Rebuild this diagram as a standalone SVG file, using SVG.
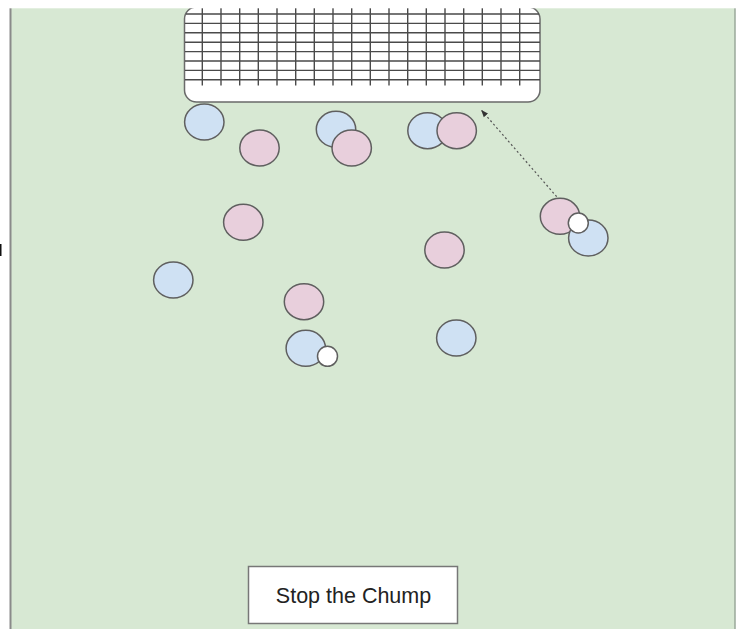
<svg xmlns="http://www.w3.org/2000/svg" width="736" height="629" viewBox="0 0 736 629">
<defs>
<style>
.blue{fill:#cfe1f3;stroke:#5f5f5f;stroke-width:1.5}
.pink{fill:#e8cfdc;stroke:#5f5f5f;stroke-width:1.5}
.ball{fill:#ffffff;stroke:#5f5f5f;stroke-width:1.5}
.grid{stroke:#4a4a4a;stroke-width:1.4;fill:none}
.label{font-family:"Liberation Sans",Arial,sans-serif;font-size:21.5px;fill:#222}
</style>
<marker id="arrow" viewBox="0 0 10 10" refX="9" refY="5" markerWidth="6" markerHeight="6" orient="auto-start-reverse">
<path d="M0,1 L10,5 L0,9 z" fill="#333"/>
</marker>
</defs>
<rect x="0" y="0" width="736" height="629" fill="#ffffff"/>
<g id="field">
<rect x="10" y="8" width="725" height="621" fill="#d7e8d3"/>
<line x1="10.5" y1="8" x2="10.5" y2="629" stroke="#8a8a8a" stroke-width="2"/>
<line x1="735" y1="8" x2="735" y2="629" stroke="#9aa89a" stroke-width="1.5"/>
</g>
<g id="goal">
<rect x="184.5" y="7" width="355.5" height="95" rx="12" ry="12" fill="#ffffff" stroke="#6a6a6a" stroke-width="1.5"/>
<path class="grid" d="M186,14H539M185,23.4H540M185,32.8H540M185,42.2H540M185,51.6H540M185,61H540M185,70.4H540M185,79.8H540
M202.3,7V85.5M221,7V85.5M239.7,7V85.5M258.3,7V85.5M277,7V85.5M295.7,7V85.5M314.3,7V85.5M333,7V85.5M351.7,7V85.5M370.3,7V85.5M389,7V85.5M407.7,7V85.5M426.3,7V85.5M445,7V85.5M463.7,7V85.5M482.3,7V85.5M501,7V85.5M519.7,7V85.5"/>
</g>
<rect x="0" y="0" width="736" height="8.3" fill="#ffffff"/>
<rect x="0" y="244" width="1.5" height="12" fill="#111"/>
<g id="players">
<g id="p1"><ellipse class="blue" cx="204.3" cy="122" rx="19.7" ry="18"/></g>
<g id="p2"><ellipse class="pink" cx="259.5" cy="148" rx="19.7" ry="18"/></g>
<g id="p3"><ellipse class="blue" cx="336" cy="129.3" rx="19.7" ry="18"/></g>
<g id="p4"><ellipse class="pink" cx="351.7" cy="148" rx="19.7" ry="18"/></g>
<g id="p5"><ellipse class="blue" cx="427.5" cy="130.7" rx="19.7" ry="18"/></g>
<g id="p6"><ellipse class="pink" cx="456.7" cy="130.7" rx="19.7" ry="18"/></g>
<g id="p7"><ellipse class="pink" cx="243.3" cy="222.3" rx="19.7" ry="18"/></g>
<g id="p8"><ellipse class="pink" cx="560" cy="216.3" rx="19.7" ry="18"/></g>
<g id="p9"><ellipse class="blue" cx="588.3" cy="238" rx="19.7" ry="18"/></g>
<g id="ball1"><circle class="ball" cx="578.3" cy="223" r="10"/></g>
<g id="p10"><ellipse class="pink" cx="444.5" cy="250" rx="19.7" ry="18"/></g>
<g id="p11"><ellipse class="blue" cx="173.3" cy="280" rx="19.7" ry="18"/></g>
<g id="p12"><ellipse class="pink" cx="304" cy="301.7" rx="19.7" ry="18"/></g>
<g id="p13"><ellipse class="blue" cx="305.8" cy="348.3" rx="19.7" ry="18"/></g>
<g id="ball2"><circle class="ball" cx="327.5" cy="356.3" r="10"/></g>
<g id="p14"><ellipse class="blue" cx="456.3" cy="338" rx="19.7" ry="18"/></g>
</g>
<g id="connectors">
<line x1="556.7" y1="196.7" x2="481.7" y2="110.5" stroke="#555" stroke-width="1.2" stroke-dasharray="2,2.5" marker-end="url(#arrow)"/>
</g>
<g id="label">
<rect x="248.5" y="566.5" width="209" height="57" fill="#ffffff" stroke="#777" stroke-width="1.5"/>
<text class="label" x="353.5" y="603" text-anchor="middle">Stop the Chump</text>
</g>
</svg>
